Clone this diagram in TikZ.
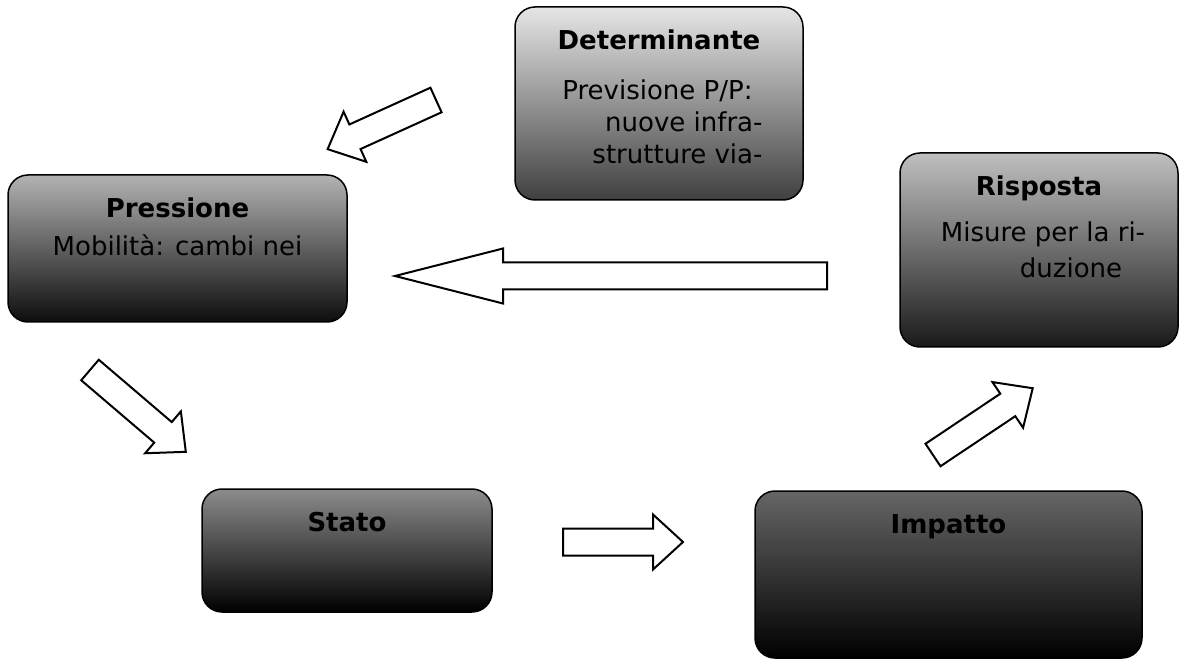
\documentclass[tikz,border=0pt]{standalone}
\usepackage{fontspec}
\setmainfont{DejaVu Sans}

\tikzset{
  box/.style={draw, line width=1.5pt, rounded corners=20pt, inner sep=0pt},
  ttl/.style={font=\bfseries\fontsize{26}{32}\selectfont, anchor=base, inner sep=0pt},
  txt/.style={font=\fontsize{26}{32}\selectfont, inner sep=0pt},
  blockarrow/.style={draw, line width=2pt, fill=white, line join=miter}
}

\begin{document}
\begin{tikzpicture}[x=1pt,y=-1pt]
  \useasboundingbox (0,0) rectangle (1181,660);

  % 5 boxes, light on top and dark at the bottom
  \foreach \n/\x/\y/\w/\h/\c/\d/\t in {
      det/659/103.5/288/193/black!10/black!75/Determinante,
      pre/177.5/248.5/339/147/black!30/black!95/Pressione,
      ris/1039/250/278/194/black!25/black!90/Risposta,
      sta/347/550.5/290/123/black!45/black/Stato,
      imp/948.5/574.5/387/167/black!60/black/Impatto} {
    \node[box, top color=\c, bottom color=\d, minimum width=\w pt, minimum height=\h pt] (\n) at (\x,\y) {};
    \node[ttl] (\n-t) at ([yshift=-43pt]\n.north) {\t};
  }

  % texts under the titles
  \node[txt, align=right, anchor=north east] (det-b) at ([xshift=-41pt,yshift=-73pt]det.north east)
    {Previsione P/P:\hspace*{10pt}\\nuove infra-\\strutture via-};
  \node[txt, anchor=north] (pre-b) at ([yshift=-60pt]pre.north) {Mobilità: cambi nei};
  \node[txt, align=center, anchor=north] (ris-b) at ([xshift=4pt,yshift=-69pt]ris.north)
    {Misure per la ri-\\[4pt]\hspace*{56pt}duzione};

  % 5 block arrows: tail x/y, angle, length, head length
  \foreach \x/\y/\a/\l/\k in {
      436/100/204.4/119/30,
      827/276/180/432/108,
      90/370/-40.5/126/30,
      563/542/0/120/30,
      933/455/33.8/120/30} {
    \draw[blockarrow, shift={(\x,\y)}, rotate=\a]
      (0,-13.5) -- (\l-\k,-13.5) -- (\l-\k,-27.5) -- (\l,0)
      -- (\l-\k,27.5) -- (\l-\k,13.5) -- (0,13.5) -- cycle;
  }

\end{tikzpicture}
\end{document}
